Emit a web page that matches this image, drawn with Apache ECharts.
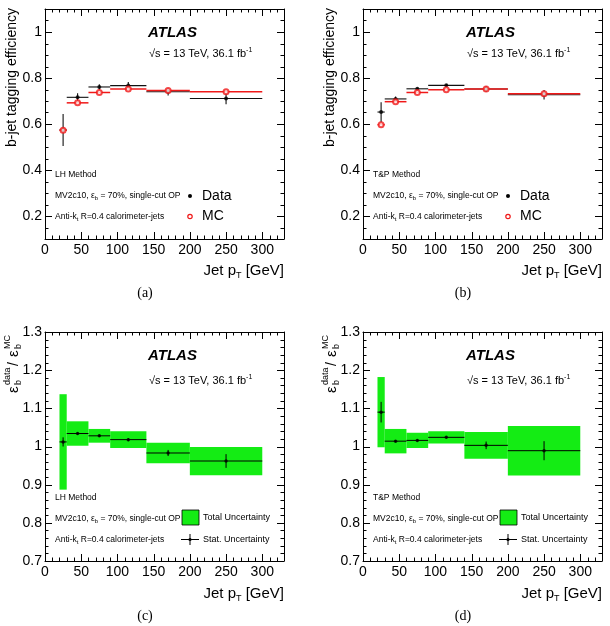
<!DOCTYPE html>
<html>
<head>
<meta charset="utf-8">
<script src="https://cdn.jsdelivr.net/npm/echarts@6/dist/echarts.min.js"></script>
<style>
html, body { margin: 0; padding: 0; background: #fff; }
#chart { width: 610px; height: 626px; }
</style>
</head>
<body>
<div id="chart"></div>
<script>
// jet pT bins [GeV]
const binLow = [20, 30, 60, 90, 140, 200];
const binHigh = [30, 60, 90, 140, 200, 300];
const binCenter = [25, 45, 75, 115, 170, 250];

// (a) LH method efficiencies
const lhDataEff = [0.574, 0.716, 0.761, 0.767, 0.740, 0.711];
const lhDataErr = [0.070, 0.018, 0.012, 0.016, 0.016, 0.025];
const lhMcEff = [0.573, 0.692, 0.737, 0.752, 0.746, 0.740];

// (b) T&P method efficiencies
const tpDataEff = [0.652, 0.709, 0.753, 0.768, 0.752, 0.727];
const tpDataErr = [0.043, 0.011, 0.006, 0.006, 0.013, 0.021];
const tpMcEff = [0.597, 0.697, 0.737, 0.749, 0.752, 0.732];

// (c) LH scale factors, (d) T&P scale factors
const lhSf = [1.012, 1.034, 1.028, 1.018, 0.983, 0.962];
const lhSfStat = [0.012, 0.003, 0.003, 0.004, 0.008, 0.018];
const lhSfTot = [0.125, 0.032, 0.018, 0.022, 0.027, 0.037];
const tpSf = [1.090, 1.014, 1.016, 1.024, 1.003, 0.989];
const tpSfStat = [0.027, 0.003, 0.003, 0.003, 0.010, 0.025];
const tpSfTot = [0.092, 0.032, 0.020, 0.016, 0.035, 0.065];

// axis ranges and ticks
const xRange = [0, 330];
const effRange = [0.1, 1.1];
const sfRange = [0.7, 1.3];
const xMajorTicks = [0, 50, 100, 150, 200, 250, 300];
const effMajorTicks = [0.2, 0.4, 0.6, 0.8, 1.0];
const sfMajorTicks = [0.7, 0.8, 0.9, 1.0, 1.1, 1.2, 1.3];

function minorTicks(min, max, step, majors) {
  const out = [];
  for (let v = min; v <= max + 1e-9; v += step) {
    const r = Math.round(v * 1000) / 1000;
    if (!majors.some(m => Math.abs(m - r) < 1e-6)) out.push(r);
  }
  return out;
}
const xMinorTicks = minorTicks(10, 320, 10, xMajorTicks);
const effMinorTicks = minorTicks(0.15, 1.05, 0.05, effMajorTicks);
const sfMinorTicks = minorTicks(0.72, 1.28, 0.02, sfMajorTicks);

const FONT = '"Liberation Sans", Arial, Helvetica, sans-serif';
const SERIF = '"Liberation Serif", "Times New Roman", serif';
const GREEN = '#14ec14';
const RED = '#f01818';

const grids = [
  { left: 45, top: 9, width: 239, height: 230 },
  { left: 363, top: 9, width: 239, height: 230 },
  { left: 45, top: 332, width: 239, height: 229 },
  { left: 363, top: 332, width: 239, height: 229 }
];

function boxAxis(g, pos, range, extra, labelOpt) {
  return Object.assign({
    gridIndex: g, type: 'value', min: range[0], max: range[1], position: pos,
    splitLine: { show: false },
    axisLine: { show: true, onZero: false, lineStyle: { color: '#000', width: 1 } },
    axisTick: { show: false },
    axisLabel: labelOpt ? Object.assign({
      show: true, color: '#000', fontSize: 14, fontFamily: FONT,
      margin: (pos === 'bottom') ? 4 : 3
    }, labelOpt) : { show: false }
  }, extra);
}

const xAxis = [], yAxis = [];
grids.forEach((gr, g) => {
  xAxis.push(boxAxis(g, 'bottom', xRange, { interval: 50 }, { showMinLabel: true, showMaxLabel: false }));
  xAxis.push(boxAxis(g, 'top', xRange, { interval: 50 }, null));
  if (g < 2) {
    yAxis.push(boxAxis(g, 'left', effRange, { splitNumber: 5 }, { showMinLabel: false, showMaxLabel: false }));
    yAxis.push(boxAxis(g, 'right', effRange, { splitNumber: 5 }, null));
  } else {
    yAxis.push(boxAxis(g, 'left', sfRange, { interval: 0.1 }, {
      showMinLabel: true, showMaxLabel: true,
      formatter: v => String(Math.round(v * 10) / 10)
    }));
    yAxis.push(boxAxis(g, 'right', sfRange, { interval: 0.1 }, null));
  }
});

function ax(g) { return { xAxisIndex: g * 2, yAxisIndex: g * 2 }; }

function errorBars(color, width) {
  return function (params, api) {
    const x = api.value(0), y = api.value(1), e = api.value(4);
    const a = api.coord([api.value(2), y]);
    const b = api.coord([api.value(3), y]);
    const t = api.coord([x, y + e]);
    const d = api.coord([x, y - e]);
    return {
      type: 'group',
      children: [
        { type: 'line', shape: { x1: a[0], y1: a[1], x2: b[0], y2: b[1] }, style: { stroke: color, lineWidth: width } },
        { type: 'line', shape: { x1: t[0], y1: t[1], x2: d[0], y2: d[1] }, style: { stroke: color, lineWidth: width } }
      ]
    };
  };
}

function bandRect(params, api) {
  const y = api.value(1), e = api.value(4);
  const p1 = api.coord([api.value(2), y + e]);
  const p2 = api.coord([api.value(3), y - e]);
  return {
    type: 'rect',
    shape: { x: p1[0], y: p1[1], width: p2[0] - p1[0], height: p2[1] - p1[1] },
    style: { fill: GREEN }
  };
}

function rows(vals, errs) {
  return binCenter.map((c, i) => [c, vals[i], binLow[i], binHigh[i], errs ? errs[i] : 0]);
}

const series = [];
[[lhDataEff, lhDataErr, lhMcEff], [tpDataEff, tpDataErr, tpMcEff]].forEach((set, g) => {
  series.push(Object.assign({ type: 'custom', renderItem: errorBars('#111', 1.1), data: rows(set[0], set[1]), encode: { x: 0, y: 1 }, z: 2 }, ax(g)));
  series.push(Object.assign({ type: 'custom', renderItem: errorBars(RED, 1.5), data: rows(set[2]), encode: { x: 0, y: 1 }, z: 3 }, ax(g)));
  series.push(Object.assign({ type: 'scatter', symbol: 'circle', symbolSize: 4, itemStyle: { color: '#000' }, data: binCenter.map((c, i) => [c, set[0][i]]), z: 4 }, ax(g)));
  series.push(Object.assign({ type: 'scatter', symbol: 'emptyCircle', symbolSize: 5, itemStyle: { color: RED, borderColor: RED, borderWidth: 1.2 }, data: binCenter.map((c, i) => [c, set[2][i]]), z: 5 }, ax(g)));
});
[[lhSf, lhSfStat, lhSfTot], [tpSf, tpSfStat, tpSfTot]].forEach((set, k) => {
  const g = k + 2;
  series.push(Object.assign({ type: 'custom', renderItem: bandRect, data: rows(set[0], set[2]), encode: { x: 0, y: 1 }, z: 1 }, ax(g)));
  series.push(Object.assign({ type: 'custom', renderItem: errorBars('#000', 1), data: rows(set[0], set[1]), encode: { x: 0, y: 1 }, z: 2 }, ax(g)));
  series.push(Object.assign({ type: 'scatter', symbol: 'circle', symbolSize: 3.5, itemStyle: { color: '#000' }, data: binCenter.map((c, i) => [c, set[0][i]]), z: 4 }, ax(g)));
});

function txt(x, y, text, size, extra) {
  return {
    type: 'text', x: x, y: y, silent: true,
    style: Object.assign({ text: text, fontSize: size, fontFamily: FONT, fill: '#000', align: 'left', verticalAlign: 'middle' }, extra || {})
  };
}
const subStyle = (size, pad) => ({ fontSize: size, fontFamily: FONT, padding: [pad, 0, 0, 0] });
const supStyle = (size, pad) => ({ fontSize: size, fontFamily: FONT, padding: [0, 0, pad, 0] });

const graphic = [];
const methods = ['LH Method', 'T&P Method', 'LH Method', 'T&P Method'];
const captions = ['(a)', '(b)', '(c)', '(d)'];
grids.forEach((gr, g) => {
  const L = gr.left, T = gr.top, ratio = g >= 2;
  graphic.push(txt(L + 103, T + 24, 'ATLAS', 15, { fontWeight: 'bold', fontStyle: 'italic' }));
  graphic.push(txt(L + 104, T + (ratio ? 48.5 : 45), '√s = 13 TeV, 36.1 fb{sup|-1}', 11, { rich: { sup: supStyle(7, 7) } }));
  graphic.push(txt(L + 10, T + 166, methods[g], 8.5));
  graphic.push(txt(L + 10, T + 186.5, 'MV2c10, ε{sub|b} = 70%, single-cut OP', 8.5, { rich: { sub: subStyle(6, 5) } }));
  graphic.push(txt(L + 10, T + 207.5, 'Anti-k{sub|t} R=0.4 calorimeter-jets', 8.5, { rich: { sub: subStyle(6, 5) } }));
  graphic.push(txt(L + 239, T + 262, 'Jet p{sub|T} [GeV]', 15, { align: 'right', rich: { sub: subStyle(9, 9) } }));
  graphic.push(txt(L + 100, T + 284, captions[g], 14, { align: 'center', fontFamily: SERIF }));
  if (!ratio) {
    graphic.push({ type: 'circle', silent: true, shape: { cx: L + 145, cy: T + 187, r: 2 }, style: { fill: '#000' } });
    graphic.push(txt(L + 157, T + 187, 'Data', 14));
    graphic.push({ type: 'circle', silent: true, shape: { cx: L + 145, cy: T + 207.5, r: 2.2 }, style: { fill: 'none', stroke: RED, lineWidth: 1.2 } });
    graphic.push(txt(L + 157, T + 207.5, 'MC', 14));
    const yt = txt(L - 33, T - 1, 'b-jet tagging efficiency', 14, { align: 'right' });
    yt.rotation = Math.PI / 2;
    graphic.push(yt);
  } else {
    graphic.push({ type: 'rect', silent: true, shape: { x: L + 137, y: T + 178, width: 17, height: 15 }, style: { fill: GREEN, stroke: '#000', lineWidth: 0.8 } });
    graphic.push(txt(L + 158, T + 185.5, 'Total Uncertainty', 9));
    graphic.push({ type: 'line', silent: true, shape: { x1: L + 136, y1: T + 207.5, x2: L + 154, y2: T + 207.5 }, style: { stroke: '#000', lineWidth: 1 } });
    graphic.push({ type: 'line', silent: true, shape: { x1: L + 145, y1: T + 202, x2: L + 145, y2: T + 213 }, style: { stroke: '#000', lineWidth: 1 } });
    graphic.push({ type: 'circle', silent: true, shape: { cx: L + 145, cy: T + 207.5, r: 1.6 }, style: { fill: '#000' } });
    graphic.push(txt(L + 158, T + 207.5, 'Stat. Uncertainty', 9));
    graphic.push({
      type: 'group', x: L - 31, y: T + 61, rotation: Math.PI / 2, silent: true,
      children: [
        txt(0, 0, 'ε', 15),
        txt(8, -6, 'data', 9),
        txt(8, 5, 'b', 9),
        txt(27, 0, '/', 14),
        txt(36, 0, 'ε', 15),
        txt(44, -6, 'MC', 9),
        txt(44, 5, 'b', 9)
      ]
    });
  }
});

const chart = echarts.init(document.getElementById('chart'));
chart.setOption({
  backgroundColor: '#fff',
  animation: false,
  grid: grids,
  xAxis: xAxis,
  yAxis: yAxis,
  series: series,
  graphic: graphic
});

// inward ticks on all four sides, positioned through the axis scales
try {
  const tickLine = (x1, y1, x2, y2) => ({
    type: 'line', silent: true, z: 10,
    shape: { x1: x1, y1: y1, x2: x2, y2: y2 }, style: { stroke: '#000', lineWidth: 1 }
  });
  const ticks = [];
  grids.forEach((gr, g) => {
    const yr = g < 2 ? effRange : sfRange;
    const yMaj = g < 2 ? effMajorTicks : sfMajorTicks;
    const yMin = g < 2 ? effMinorTicks : sfMinorTicks;
    const px = v => chart.convertToPixel({ xAxisIndex: g * 2 }, v);
    const py = v => chart.convertToPixel({ yAxisIndex: g * 2 }, v);
    const bottom = py(yr[0]), top = py(yr[1]), left = px(xRange[0]), right = px(xRange[1]);
    [[xMajorTicks, 7], [xMinorTicks, 3.5]].forEach(([list, len]) => list.forEach(v => {
      const x = Math.round(px(v)) + 0.5;
      ticks.push(tickLine(x, bottom, x, bottom - len), tickLine(x, top, x, top + len));
    }));
    [[yMaj, 7], [yMin, 3.5]].forEach(([list, len]) => list.forEach(v => {
      const y = Math.round(py(v)) + 0.5;
      ticks.push(tickLine(left, y, left + len, y), tickLine(right, y, right - len, y));
    }));
  });
  chart.setOption({ graphic: graphic.concat(ticks) });
} catch (e) {
  console.error(e);
}
</script>
</body>
</html>
